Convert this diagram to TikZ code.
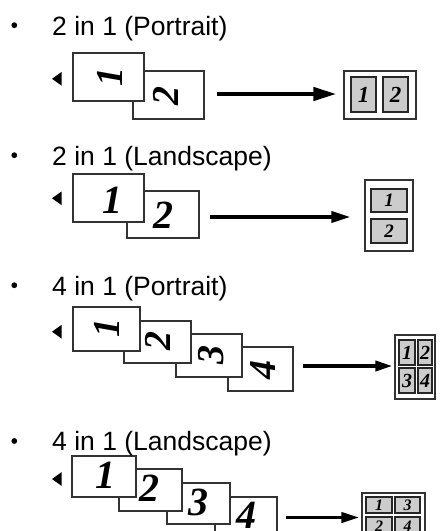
\documentclass[tikz,border=0pt]{standalone}
\usepackage{fontspec}
\setmainfont{Liberation Sans}
\newfontfamily\digitfont{Liberation Serif}
\usetikzlibrary{arrows.meta}
\newcommand\mkbox[6]{% style, name, x1, y1, x2, y2
  \node[#1, minimum width={#5-#3}, minimum height={#6-#4}] (#2) at ({(#3+#5)/2},{(#4+#6)/2}) {};}
\newcommand\mkcell[7]{% name, x1, y1, x2, y2, font size, digit
  \node[cell, minimum width={#4-#2}, minimum height={#5-#3}, font=\digitfont\bfseries\itshape\fontsize{#6}{#6}\selectfont] (#1) at ({(#2+#4)/2},{(#3+#5)/2}) {#7};}
\begin{document}
\begin{tikzpicture}[x=1pt,y=-1pt,
  page/.style={draw=black!80, line width=1.2pt, fill=white, inner sep=0pt, rectangle},
  res/.style={draw=black!80, line width=1.1pt, fill=white, inner sep=0pt, rectangle},
  cell/.style={draw=black!85, line width=1.2pt, fill=black!20, inner sep=0pt, rectangle},
  dig/.style={font=\digitfont\bfseries\itshape\fontsize{38}{38}\selectfont, inner sep=0pt, rotate=90},
  digl/.style={font=\digitfont\bfseries\itshape\fontsize{40}{40}\selectfont, inner sep=0pt},
  label/.style={font=\fontsize{26.5}{30}\selectfont, anchor=base west, inner sep=0pt},
  arr/.style={line width=3.6pt, -{Triangle[length=19pt,width=11pt]}},
  tri/.style={fill=black}]
\useasboundingbox (0,0) rectangle (441,531);
\clip (0,0) rectangle (441,531);

% ---------- Section 1 ----------
\fill (14.3,25.2) circle (2.9pt);
\fill[tri] (52,78.8) -- (61.5,72) -- (61.5,85.6) -- cycle;
\mkbox{page}{a2}{133}{71}{204}{119}
\node[dig] (a2d) at (166,96) {2};
\mkbox{page}{a1}{73}{53}{144}{101}
\node[dig] (a1d) at (110,77) {1};
\node[label] (t1) at (52,35) {2 in 1 (Portrait)};
\mkbox{res}{r1}{344}{71}{416}{119}
\mkcell{r1a}{351}{77}{376}{112}{23}{1}
\mkcell{r1b}{383}{77}{408}{112}{23}{2}
\draw[arr, line width=4.2pt, -{Triangle[length=23pt,width=13pt]}, shorten <=12pt, shorten >=7pt]
  ([yshift=1pt]a2.east) -- ([yshift=1pt]a2.east -| r1.west);

% ---------- Section 2 ----------
\fill (14.3,155.2) circle (2.9pt);
\fill[tri] (52,198.3) -- (61.5,191.5) -- (61.5,205.1) -- cycle;
\mkbox{page}{b2}{127}{191}{199}{238}
\node[digl] (b2d) at (163,215) {2};
\mkbox{page}{b1}{73}{174}{144}{222}
\node[digl] (b1d) at (112,200) {1};
\node[label] (t2) at (52,165) {2 in 1 (Landscape)};
\mkbox{res}{r2}{365}{180}{413}{251}
\mkcell{r2a}{371}{189}{407}{212}{19}{1}
\mkcell{r2b}{371}{219}{407}{243}{19}{2}
\draw[arr, shorten <=10pt, shorten >=14pt]
  ([yshift=-2.5pt]b2.east) -- ([yshift=-2.5pt]b2.east -| r2.west);

% ---------- Section 3 ----------
\fill (14.3,285.2) circle (2.9pt);
\fill[tri] (52,331.7) -- (61.5,324.9) -- (61.5,338.5) -- cycle;
\mkbox{page}{c4}{228}{347}{293}{391}
\node[dig] (c4d) at (262.5,370) {4};
\mkbox{page}{c3}{176}{334}{242}{377}
\node[dig] (c3d) at (211,355) {3};
\mkbox{page}{c2}{124}{321}{191}{363}
\node[dig] (c2d) at (157.5,341) {2};
\mkbox{page}{c1}{73}{307}{140}{351}
\node[dig] (c1d) at (107,328) {1};
\node[label] (t3) at (52,295) {4 in 1 (Portrait)};
\mkbox{res}{r3}{395}{335}{435}{399}
\mkcell{r3a}{399}{340}{415}{365}{20}{1}
\mkcell{r3b}{418}{340}{432}{365}{20}{2}
\mkcell{r3c}{399}{368}{415}{393}{20}{3}
\mkcell{r3d}{418}{368}{432}{393}{20}{4}
\draw[arr, -{Triangle[length=17pt,width=10pt]}, shorten <=9pt, shorten >=2pt]
  ([yshift=3pt]c4.east) -- ([yshift=3pt]c4.east -| r3.west);

% ---------- Section 4 ----------
\fill (14.3,441) circle (2.9pt);
\fill[tri] (52,479) -- (61.5,472.2) -- (61.5,485.8) -- cycle;
\mkbox{page}{d4}{215}{497}{277}{538}
\node[digl] (d4d) at (246,515.5) {4};
\mkbox{page}{d3}{167}{483}{230}{524}
\node[digl] (d3d) at (198,502.5) {3};
\mkbox{page}{d2}{119}{469}{182}{511}
\node[digl] (d2d) at (149,488) {2};
\mkbox{page}{d1}{72}{456}{136}{497}
\node[digl] (d1d) at (105,475) {1};
\node[label] (t4) at (52,450) {4 in 1 (Landscape)};
\mkbox{res}{r4}{362}{493}{425}{540}
\mkcell{r4a}{366}{497}{392}{513}{16}{1}
\mkcell{r4b}{395}{497}{420}{513}{16}{3}
\mkcell{r4c}{366}{517}{392}{535}{16}{2}
\mkcell{r4d}{395}{517}{420}{535}{16}{4}
\draw[arr, -{Triangle[length=18pt,width=10pt]}, shorten <=8pt, shorten >=2pt]
  (d4.east) -- (d4.east -| r4.west);
\end{tikzpicture}
\end{document}
